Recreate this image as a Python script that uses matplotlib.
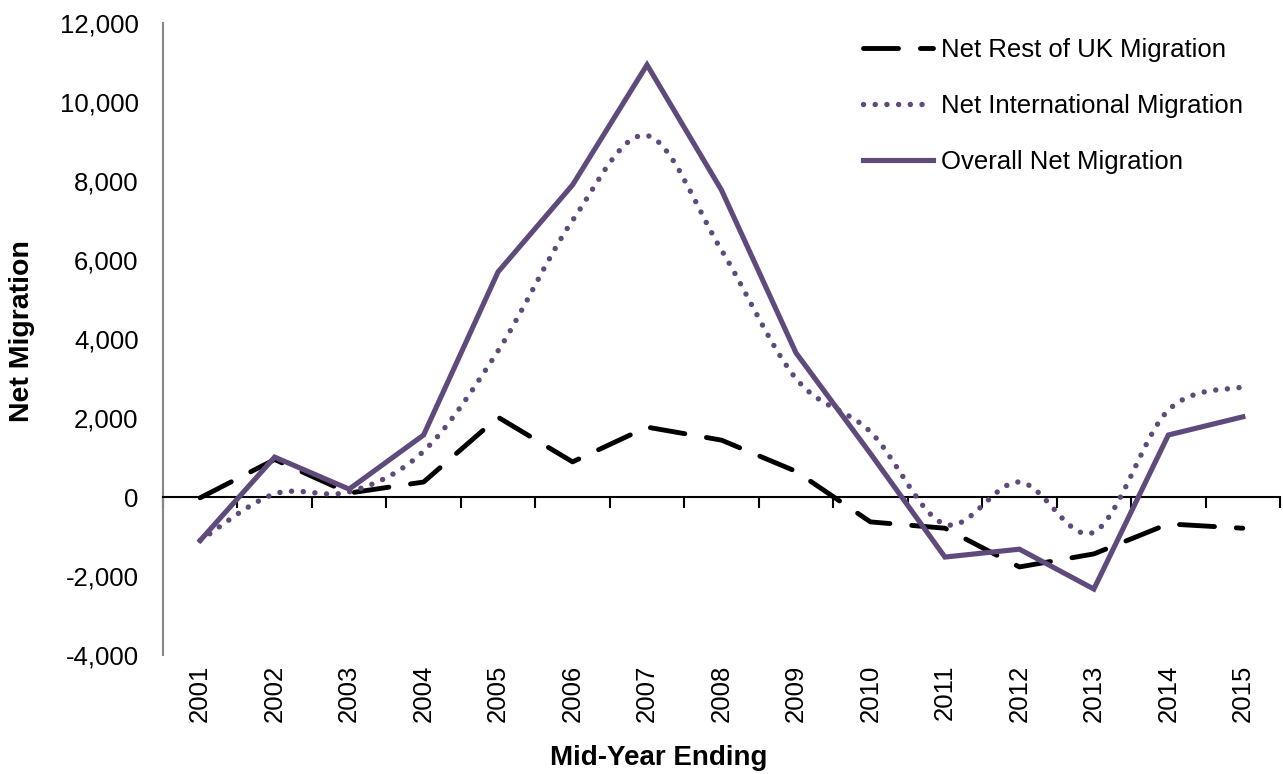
import numpy as np
import matplotlib
matplotlib.use("Agg")
import matplotlib.pyplot as plt
from matplotlib.path import Path
from matplotlib.patches import PathPatch
from matplotlib.ticker import FuncFormatter

plt.rcParams['font.family'] = ['Liberation Sans', 'DejaVu Sans']

years = ['2001', '2002', '2003', '2004', '2005', '2006', '2007', '2008',
         '2009', '2010', '2011', '2012', '2013', '2014', '2015']
rest_of_uk = [-20, 950, 100, 380, 2020, 890, 1770, 1440,
              650, -630, -790, -1770, -1440, -680, -790]
international = [-1100, 80, 130, 1160, 3700, 7000, 9150, 6250,
                 3000, 1650, -690, 380, -890, 2200, 2790]
overall = [-1100, 1010, 200, 1570, 5700, 7900, 10940, 7770,
           3650, 1100, -1520, -1320, -2330, 1570, 2030]

purple = '#5F4A7C'
fs = 18.5


def smooth_path(x, y):
    # Bezier segments through every point, like a spreadsheet's smoothed line
    pts = np.column_stack([x, y]).astype(float)
    n = len(pts)
    verts = [pts[0]]
    codes = [Path.MOVETO]
    for i in range(n - 1):
        p0 = pts[i - 1] if i > 0 else pts[i]
        p1 = pts[i]
        p2 = pts[i + 1]
        p3 = pts[i + 2] if i + 2 < n else pts[i + 1]
        c1 = p1 + (p2 - p0) / 6.0
        c2 = p2 - (p3 - p1) / 6.0
        verts += [c1, c2, p2]
        codes += [Path.CURVE4] * 3
    return Path(verts, codes)


fig = plt.figure(figsize=(12.83, 7.74), dpi=100)
ax = fig.add_axes([0.127, 0.1537, 0.8707, 0.8166])

x = np.arange(len(years))

ax.plot(x, rest_of_uk, color='black', lw=3.5, dashes=(7.2, 4.5),
        dash_capstyle='round', label='Net Rest of UK Migration', zorder=3)

patch = PathPatch(smooth_path(x, international), fill=False, edgecolor=purple,
                  lw=3.9, linestyle=(0, (0.01, 2.15)), capstyle='round', zorder=4)
ax.add_patch(patch)
ax.plot([], [], color=purple, lw=3.9, dashes=(0.01, 2.15),
        dash_capstyle='round', label='Net International Migration')

ax.plot(x, overall, color=purple, lw=3.7, label='Overall Net Migration',
        solid_joinstyle='miter', zorder=5)

ax.set_xlim(-0.5, len(years) - 0.5)
ax.set_ylim(-4000, 12000)
ax.set_yticks(np.arange(-4000, 12001, 2000))
ax.yaxis.set_major_formatter(FuncFormatter(lambda v, p: f'{int(v):,}'))
ax.tick_params(axis='y', length=0, labelsize=fs, pad=17.5)

for s in ['top', 'right']:
    ax.spines[s].set_visible(False)
ax.spines['left'].set_color('#868686')
ax.spines['left'].set_linewidth(1.5)
ax.spines['bottom'].set_position(('data', 0))
ax.spines['bottom'].set_color('black')
ax.spines['bottom'].set_linewidth(1.5)

# category boundary ticks on the zero line
ax.set_xticks(np.arange(-0.5, len(years), 1.0))
ax.set_xticklabels([])
ax.tick_params(axis='x', length=8, width=1.5, direction='out', color='black')

# year labels at the bottom of the plot area
sec = ax.secondary_xaxis('bottom')
sec.set_xticks(x)
sec.set_xticklabels(years, rotation=90, fontsize=fs)
sec.tick_params(length=0, pad=7)
sec.spines['bottom'].set_visible(False)

fig.text(659 / 1283, 1 - 758 / 774, 'Mid-Year Ending', fontsize=20,
         fontweight='bold', ha='center', va='center')
fig.text(22 / 1283, 1 - 331 / 774, 'Net Migration', fontsize=20.5,
         fontweight='bold', ha='center', va='center', rotation=90)

ax.legend(loc='upper left', bbox_to_anchor=(0.6625, 0.968),
          bbox_transform=fig.transFigure, frameon=False, fontsize=fs,
          handlelength=2.75, handletextpad=0.3, labelspacing=1.25, borderpad=0)

fig.savefig('out.png', dpi=100)
